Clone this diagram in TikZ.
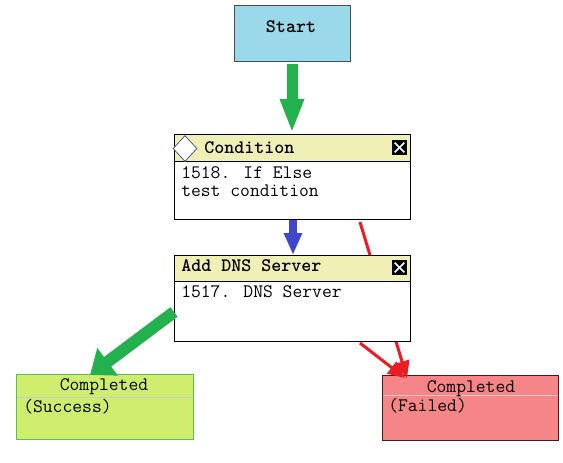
\documentclass[tikz,border=0pt]{standalone}
\usepackage{fontspec}
\usepackage{tikz}
\usetikzlibrary{shapes.geometric, arrows.meta, calc, backgrounds}
\definecolor{startblue}{RGB}{153, 217, 234}
\definecolor{hdryellow}{RGB}{240, 240, 182}
\definecolor{okfill}{RGB}{208, 238, 110}
\definecolor{okline}{RGB}{90, 190, 80}
\definecolor{failfill}{RGB}{245, 133, 135}
\definecolor{failline}{RGB}{60, 30, 30}
\definecolor{arrgreen}{RGB}{34, 177, 76}
\definecolor{arrblue}{RGB}{63, 72, 204}
\definecolor{arrred}{RGB}{237, 28, 36}
\definecolor{dmdline}{RGB}{80, 90, 130}

\begin{document}
\begin{tikzpicture}[x=0.75pt, y=-0.75pt,
  box/.style={draw=#1, line width=0.75pt, inner sep=0pt, outer sep=0pt},
  txt/.style={font=\ttfamily\fontsize{14.3}{17}\selectfont, inner sep=0pt, anchor=base west},
  hdr/.style={txt, font=\ttfamily\bfseries\fontsize{14.3}{17}\selectfont},
  closebtn/.style={fill=black, minimum width=11.25pt, minimum height=11.25pt, inner sep=0pt},
  xline/.style={white, line width=1.3pt},
  redarr/.style={-{Triangle[width=11pt, length=12.75pt]}, line width=2.25pt, arrred},
]
  \useasboundingbox (0,0) rectangle (563,463);

  % start
  \node[box=black!70, fill=startblue, minimum width=87pt, minimum height=42pt] (start) at (292,34) {};
  \node[hdr, anchor=base] (startt) at (291,33) {Start};

  % condition
  \node[box=black, fill=white, minimum width=177pt, minimum height=63pt] (cond) at (292,177) {};
  \node[box=black, fill=hdryellow, minimum width=177pt, minimum height=20.25pt] (condhead) at (292,148.5) {};
  \node[diamond, draw=dmdline, fill=white, line width=0.6pt, inner sep=0pt, minimum width=18pt, minimum height=19.5pt] (dmd) at (185,148.5) {};
  \node[hdr] (condt) at (204,154) {Condition};
  \node[closebtn] (condx) at (399.5,147.5) {};
  \draw[xline] ($(condx.north west)+(3,3)$) -- ($(condx.south east)+(-3,-3)$);
  \draw[xline] ($(condx.south west)+(3,-3)$) -- ($(condx.north east)+(-3,3)$);
  \node[txt] (condl1) at (181,179) {1518. If Else};
  \node[txt] (condl2) at (181,197) {test condition};

  % completed boxes
  \node[box=okline, fill=okfill, minimum width=132.75pt, minimum height=48.75pt] (okbox) at (104.5,406.5) {};
  \draw[black!20, line width=0.75pt] ($(okbox.north west)+(1,23)$) -- ($(okbox.north east)+(-1,23)$);
  \node[txt, anchor=base] (okt) at (104,390) {Completed};
  \node[txt] (okl) at (23,412) {(Success)};

  \node[box=failline, fill=failfill, minimum width=132pt, minimum height=48.75pt] (failbox) at (470,407.5) {};
  \draw[black!20, line width=0.75pt] ($(failbox.north west)+(1,20)$) -- ($(failbox.north east)+(-1,20)$);
  \node[txt, anchor=base] (failt) at (471,392) {Completed};
  \node[txt] (faill) at (388,411) {(Failed)};

  % red line passes behind the dns box
  \draw[redarr] ($(cond.south east)+(-50,3)$) -- ($(failbox.north west)+(25,3)$);

  % add dns server
  \node[box=black, fill=white, minimum width=177pt, minimum height=64.5pt] (dns) at (292,298) {};
  \node[box=black, fill=hdryellow, minimum width=177pt, minimum height=19.5pt] (dnshead) at (292,268) {};
  \node[hdr] (dnst) at (181,271) {Add DNS Server};
  \node[closebtn] (dnsx) at (399.5,267.5) {};
  \draw[xline] ($(dnsx.north west)+(3,3)$) -- ($(dnsx.south east)+(-3,-3)$);
  \draw[xline] ($(dnsx.south west)+(3,-3)$) -- ($(dnsx.north east)+(-3,3)$);
  \node[txt] (dnsl1) at (181,297) {1517. DNS Server};

  % arrows
  \draw[arrgreen, line width=8.25pt, -{Triangle[width=16.5pt, length=25.5pt]}] ($(start.south)+(0,2)$) -- ($(cond.north)+(0,-2)$);
  \draw[arrblue, line width=6pt, -{Triangle[width=12.75pt, length=16.5pt]}] ($(cond.south)+(1,1)$) -- ($(dns.north)+(1,0)$);
  \draw[arrgreen, line width=9pt, -{Triangle[width=24.75pt, length=16.5pt]}] ($(dns.west)+(0,14)$) -- ($(okbox.north west)+(74,1)$);
  \draw[redarr] ($(dns.south west)+(186,2)$) -- ($(failbox.north west)+(23,3)$);
\end{tikzpicture}
\end{document}
